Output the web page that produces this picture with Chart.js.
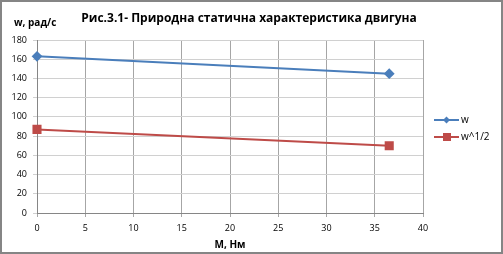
<!DOCTYPE html>
<html lang="uk">
<head>
<meta charset="UTF-8">
<title>Рис.3.1</title>
<script src="https://cdn.jsdelivr.net/npm/chart.js"></script>
<style>
  html, body { margin: 0; padding: 0; background: #fff; }
  #wrap { width: 503px; height: 254px; }
</style>
</head>
<body>
<div id="wrap"><canvas id="chart" width="503" height="254"></canvas></div>
<script>
// дані з графіка
var momentM = [0, 36.5];
var seriesW = [163, 145];
var seriesW12 = [87, 70];
var xTicks = [0, 5, 10, 15, 20, 25, 30, 35, 40];
var yTicks = [0, 20, 40, 60, 80, 100, 120, 140, 160, 180];

var FONT = "'Open Sans', 'Noto Sans', sans-serif";

function toPoints(xs, ys) {
  var pts = [];
  for (var i = 0; i < xs.length; i++) pts.push({ x: xs[i], y: ys[i] });
  return pts;
}

// підписи, легенда і рамка
var extras = {
  id: 'extras',
  afterDraw: function (chart) {
    var ctx = chart.ctx;
    ctx.save();
    ctx.fillStyle = '#000';
    ctx.textBaseline = 'middle';
    ctx.font = 'bold 12px ' + FONT;
    ctx.textAlign = 'center';
    ctx.fillText('Рис.3.1- Природна статична характеристика двигуна', 249, 19);
    ctx.font = 'bold 10px ' + FONT;
    ctx.textAlign = 'left';
    ctx.fillText('w, рад/с', 14, 23);

    // легенда
    var items = chart.data.datasets;
    for (var i = 0; i < items.length; i++) {
      var y = 120 + i * 17;
      var d = items[i];
      ctx.strokeStyle = d.borderColor;
      ctx.lineWidth = 2;
      ctx.beginPath();
      ctx.moveTo(434, y);
      ctx.lineTo(459, y);
      ctx.stroke();
      ctx.fillStyle = d.pointBackgroundColor;
      if (d.pointStyle === 'rectRot') {
        ctx.beginPath();
        ctx.moveTo(446.5, y - 3.5); ctx.lineTo(450, y); ctx.lineTo(446.5, y + 3.5); ctx.lineTo(443, y);
        ctx.closePath(); ctx.fill();
      } else {
        ctx.fillRect(443, y - 4, 8, 8);
      }
      ctx.fillStyle = '#000';
      ctx.font = '10px ' + FONT;
      ctx.fillText(d.label, 461, y);
    }

    ctx.strokeStyle = '#858585';
    ctx.lineWidth = 2;
    ctx.strokeRect(1, 1, 501, 252);
    ctx.restore();
  }
};

var cfg = {
  type: 'scatter',
  data: {
    datasets: [
      {
        label: 'w',
        data: toPoints(momentM, seriesW),
        showLine: true,
        clip: false,
        borderColor: '#4a7ebb',
        backgroundColor: '#4a7ebb',
        pointBackgroundColor: '#4a7ebb',
        pointBorderColor: '#4a7ebb',
        pointStyle: 'rectRot',
        pointRadius: 4,
        borderWidth: 2
      },
      {
        label: 'w^1/2',
        data: toPoints(momentM, seriesW12),
        showLine: true,
        clip: false,
        borderColor: '#be4b48',
        backgroundColor: '#be4b48',
        pointBackgroundColor: '#be4b48',
        pointBorderColor: '#be4b48',
        pointStyle: 'rect',
        pointRadius: 5,
        borderWidth: 2
      }
    ]
  },
  options: {
    responsive: false,
    animation: false,
    layout: { padding: { left: 2, top: 40, right: 80, bottom: 3 } },
    plugins: { legend: { display: false }, title: { display: false }, tooltip: { enabled: false } },
    scales: {
      x: {
        type: 'linear',
        min: 0, max: 40,
        afterBuildTicks: function (s) { s.ticks = xTicks.map(function (v) { return { value: v }; }); },
        afterFit: function (s) { s.height = 38; },
        grid: { color: '#a6a6a6', tickLength: 4, drawTicks: true },
        border: { color: '#868686' },
        ticks: { color: '#000', font: { family: FONT, size: 9 }, padding: 6, maxRotation: 0 },
        title: { display: true, text: 'M, Нм', color: '#000', font: { family: FONT, size: 10, weight: 'bold' }, padding: { top: 1, bottom: 0 } }
      },
      y: {
        min: 0, max: 180,
        afterBuildTicks: function (s) { s.ticks = yTicks.map(function (v) { return { value: v }; }); },
        afterFit: function (s) { s.width = 35; },
        grid: { color: '#d0d0d0', tickLength: 4 },
        border: { color: '#868686' },
        ticks: { color: '#000', font: { family: FONT, size: 9 }, padding: 6 }
      }
    }
  },
  plugins: [extras]
};

new Chart(document.getElementById('chart').getContext('2d'), cfg);
</script>
</body>
</html>
